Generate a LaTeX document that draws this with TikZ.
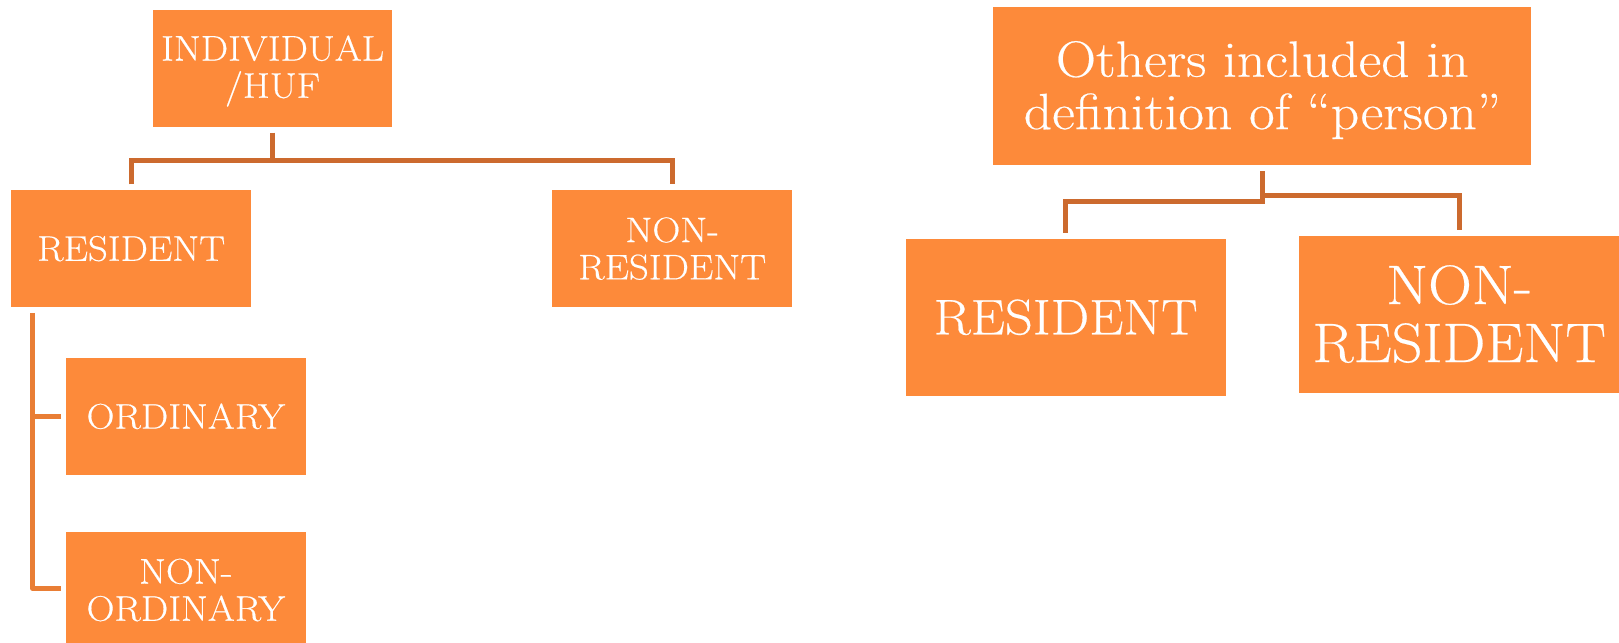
\documentclass[tikz,border=0pt]{standalone}
\usepackage{fontspec}
\setmainfont{Latin Modern Roman}[FakeStretch=1.09, FakeBold=0.4]
\usetikzlibrary{calc}
\definecolor{boxfill}{HTML}{FD8A3A}
\definecolor{connA}{HTML}{CC6A2E}
\definecolor{connB}{HTML}{E97E35}
\tikzset{
  box/.style={fill=boxfill, text=white, inner sep=0pt, outer sep=0pt, align=center, anchor=north west},
  smallbox/.style={box, minimum width=119.8pt, minimum height=58.3pt, font=\fontsize{17.8}{18.6}\selectfont},
  bigbox/.style={box, minimum width=159.85pt, minimum height=78.45pt},
  conn/.style={draw=connA, line width=2.5pt},
  connside/.style={draw=connB, line width=2.4pt, line join=round}
}
\begin{document}
\begin{tikzpicture}[x=0.5pt, y=-0.5pt]
\useasboundingbox (0,0) rectangle (1619,643);
% left tree
\node[smallbox] (ind) at (152.8,10.3) {\rule{0pt}{15pt}INDIVIDUAL\\/HUF};
\node[smallbox] (res) at (11.4,190.3) {RESIDENT};
\node[smallbox] (nonres) at (552.4,190.3) {NON-\\RESIDENT};
\node[smallbox] (ord) at (66,358) {ORDINARY};
\node[smallbox] (nonord) at (66,531.7) {NON-\\ORDINARY};
\coordinate (b1) at ($(ind.south)+(0,34)$);
\draw[conn] ($(ind.south)+(0,5.7)$) -- (b1);
\draw[conn] ($(res.north)+(0,-6)$) |- (b1) -| ($(nonres.north)+(0,-6)$);
\coordinate (v1) at ($(res.south west)+(21.3,6)$);
\draw[connside] (v1) |- ($(nonord.west)+(-5,-1.5)$);
\draw[connside] (v1 |- ord.west) -- ($(ord.west)+(-5,0)$);
% right tree
\node[box, minimum width=268.95pt, minimum height=78.6pt, font=\fontsize{25.5}{26.2}\selectfont] (oth) at (993.4,7.3) {\rule{0pt}{22pt}Others included in\\definition of ``person''};
\node[bigbox, font=\fontsize{25}{26}\selectfont] (res2) at (905.8,238.8) {RESIDENT};
\node[bigbox, font=\fontsize{27.8}{29}\selectfont] (nonres2) at (1299.3,235.6) {NON-\\RESIDENT};
\draw[conn] ($(oth.south)+(0,6.5)$) -- ($(oth.south)+(0,39.5)$);
\draw[conn] ($(oth.south)+(0,37.2)$) -| ($(res2.north)+(0,-6)$);
\draw[conn] ($(oth.south)+(0,31.2)$) -| ($(nonres2.north)+(0,-5.6)$);
\end{tikzpicture}
\end{document}
